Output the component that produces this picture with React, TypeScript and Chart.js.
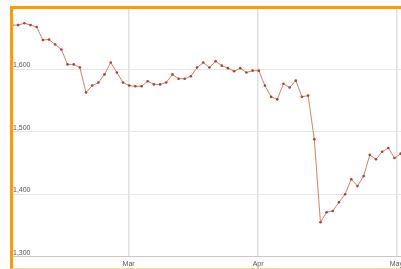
import React, { useEffect, useRef } from 'react';
import { Chart, registerables } from 'chart.js';

Chart.register(...registerables);

// Daily closing values (one point per trading day)
const prices = [
  1671, 1671, 1674, 1671, 1668, 1647, 1648, 1640, 1632, 1608,
  1608, 1603, 1563, 1574, 1579, 1592, 1611, 1595, 1579, 1574,
  1573, 1573, 1581, 1576, 1576, 1579, 1592, 1585, 1585, 1589,
  1603, 1611, 1603, 1613, 1606, 1602, 1597, 1602, 1595, 1598,
  1598, 1574, 1556, 1552, 1577, 1571, 1582, 1556, 1558, 1488,
  1355, 1371, 1373, 1387, 1400, 1424, 1413, 1429, 1463, 1456,
  1468, 1474, 1458, 1465,
];
// Month boundaries, expressed in trading-day index
const monthLabels = ['Mar', 'Apr', 'May'];
const monthPositions = [18.9, 39.9, 62.3];
const yTicks = [1300, 1400, 1500, 1600];
const yMin = 1300;
const yMax = 1700;
const xMax = 63.19;

export default function App() {
  const ref = useRef<HTMLCanvasElement | null>(null);

  useEffect(() => {
    if (!ref.current) return;
    const font = { family: '"Liberation Sans", Arial, sans-serif', size: 7 };
    const chart = new Chart(ref.current, {
      type: 'line',
      data: {
        datasets: [
          {
            data: prices.map((p, i) => ({ x: i, y: p })),
            borderColor: '#d4806a',
            borderWidth: 1,
            pointRadius: 1.3,
            pointBorderWidth: 0,
            pointBackgroundColor: '#a8432e',
            tension: 0,
          },
        ],
      },
      options: {
        animation: false,
        responsive: true,
        maintainAspectRatio: false,
        layout: { padding: { left: 10, top: 7, right: 0, bottom: 2 } },
        plugins: { legend: { display: false }, tooltip: { enabled: false } },
        scales: {
          x: {
            type: 'linear',
            min: 0,
            max: xMax,
            afterBuildTicks: (s: any) => {
              s.ticks = monthPositions.map((v) => ({ value: v }));
            },
            grid: { color: '#e0e0e0', lineWidth: 1.5, drawTicks: false },
            border: { display: true, color: '#c8c8c8' },
            ticks: {
              padding: 3,
              font,
              color: '#555',
              maxRotation: 0,
              autoSkip: false,
              callback: (_v: any, i: number) => monthLabels[i],
            },
          },
          y: {
            min: yMin,
            max: yMax,
            afterBuildTicks: (s: any) => {
              s.ticks = yTicks.map((v) => ({ value: v }));
            },
            grid: { color: '#e6e6e6', drawTicks: false },
            border: { display: false },
            ticks: {
              mirror: true,
              padding: 1,
              labelOffset: -4,
              font,
              color: '#555',
              callback: (v: any) => Number(v).toLocaleString('en-US'),
            },
          },
        },
      },
    });
    return () => chart.destroy();
  }, []);

  return (
    <div style={{ position: 'absolute', left: 0, top: 0, width: 401, height: 269, background: '#fff', overflow: 'hidden' }}>
      <div style={{ position: 'absolute', left: 0, top: 0, width: 406, height: 273 }}>
        <canvas ref={ref} />
      </div>
      <div
        style={{
          position: 'absolute',
          left: 10,
          top: 6,
          width: 391,
          height: 263,
          boxSizing: 'border-box',
          borderLeft: '3px solid #ff9c00',
          borderTop: '3px solid #ff9c00',
          borderBottom: '1px solid #fbd79c',
          pointerEvents: 'none',
        }}
      />
    </div>
  );
}
